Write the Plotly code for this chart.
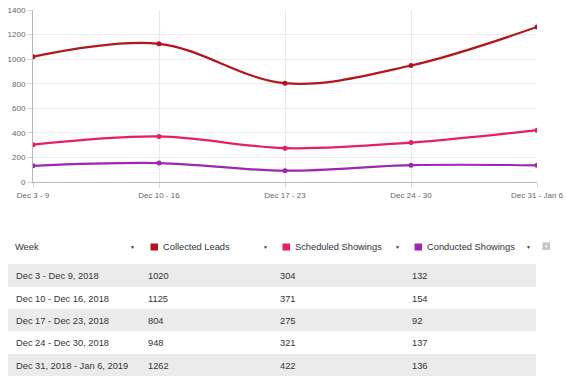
import plotly.graph_objects as go

weeks_short = ["Dec 3 - 9", "Dec 10 - 16", "Dec 17 - 23", "Dec 24 - 30", "Dec 31 - Jan 6"]
weeks_long = ["Dec 3 - Dec 9, 2018", "Dec 10 - Dec 16, 2018", "Dec 17 - Dec 23, 2018",
              "Dec 24 - Dec 30, 2018", "Dec 31, 2018 - Jan 6, 2019"]
collected = [1020, 1125, 804, 948, 1262]
scheduled = [304, 371, 275, 321, 422]
conducted = [132, 154, 92, 137, 136]
series_names = ["Collected Leads", "Scheduled Showings", "Conducted Showings"]
colors = ["#b3151d", "#e91e5a", "#9c27b0"]
y_ticks = [0, 200, 400, 600, 800, 1000, 1200, 1400]

W, H = 567, 390

def px_x(x):
    return x / W

def px_y(y):
    return (H - y) / H

FONT = "Liberation Sans, Arial, Helvetica, sans-serif"

fig = go.Figure()
for name, vals, col in zip(series_names, [collected, scheduled, conducted], colors):
    fig.add_trace(go.Scatter(
        x=weeks_short, y=vals, name=name, mode="lines+markers",
        line=dict(color=col, width=2.2, shape="spline", smoothing=1.0),
        marker=dict(color=col, size=5),
        showlegend=False, xaxis="x", yaxis="y"))

# table body
fig.add_trace(go.Table(
    domain=dict(x=[px_x(8), px_x(536)], y=[0, px_y(263.3)]),
    columnwidth=[1, 1, 1, 1],
    header=dict(values=["", "", "", ""], height=1, fill=dict(color="white"),
                line=dict(width=0, color="white")),
    cells=dict(values=[weeks_long, collected, scheduled, conducted],
               align="left", height=22.4,
               fill=dict(color=[["#ebebeb", "white", "#ebebeb", "white", "#ebebeb"]] * 4),
               line=dict(width=0, color="rgba(0,0,0,0)"),
               font=dict(family=FONT, size=9.3, color="#333333")),
))

fig.update_layout(
    width=W, height=H, autosize=False,
    margin=dict(l=0, r=0, t=0, b=0, pad=0, autoexpand=False),
    paper_bgcolor="white", plot_bgcolor="white",
    xaxis=dict(domain=[px_x(33), px_x(537)], range=[0, 4], type="category",
               automargin=False, ticklabeloverflow="allow",
               showgrid=True, gridcolor="#e9e9e9", gridwidth=1,
               showline=True, linecolor="#b8b8b8", linewidth=1,
               ticks="outside", ticklen=5, tickcolor="#d8d8d8",
               tickfont=dict(family=FONT, size=8, color="#666666"),
               zeroline=False, fixedrange=True),
    yaxis=dict(domain=[px_y(182), px_y(10)], range=[0, 1400],
               automargin=False, ticklabeloverflow="allow",
               tickvals=y_ticks,
               showgrid=True, gridcolor="#ececec", gridwidth=1,
               showline=True, linecolor="#b8b8b8", linewidth=1,
               ticks="outside", ticklen=5, tickcolor="#d8d8d8",
               tickfont=dict(family=FONT, size=8, color="#666666"),
               zeroline=False, fixedrange=True),
)

# header annotations
header_y = px_y(246.5)
annots = []
shapes = []
annots.append(dict(x=px_x(12.5), y=header_y, xref="paper", yref="paper", text="Week",
                   showarrow=False, xanchor="left", yanchor="middle",
                   font=dict(family=FONT, size=9.3, color="#333333")))
col_starts = [8, 140, 272, 404]
for i, (name, col) in enumerate(zip(series_names, colors)):
    cs = col_starts[i + 1]
    sq_x0 = cs + 10.5
    shapes.append(dict(type="rect", xref="paper", yref="paper",
                       x0=px_x(sq_x0), x1=px_x(sq_x0 + 7.5),
                       y0=px_y(250.5), y1=px_y(243.5),
                       fillcolor=col, line=dict(width=0)))
    annots.append(dict(x=px_x(sq_x0 + 10.5), y=header_y, xref="paper", yref="paper", text=name,
                       showarrow=False, xanchor="left", yanchor="middle",
                       font=dict(family=FONT, size=9.3, color="#333333")))
for ax in [132.7, 265, 397.3, 528.3]:
    annots.append(dict(x=px_x(ax), y=px_y(246.5), xref="paper", yref="paper", text="▼",
                       showarrow=False, xanchor="center", yanchor="middle",
                       font=dict(family=FONT, size=5, color="#333333")))
# plus icon
shapes.append(dict(type="rect", xref="paper", yref="paper",
                   x0=px_x(542.5), x1=px_x(550), y0=px_y(250), y1=px_y(242.5),
                   fillcolor="#c4c4c4", line=dict(width=0)))
annots.append(dict(x=px_x(546.3), y=px_y(246.3), xref="paper", yref="paper", text="+",
                   showarrow=False, xanchor="center", yanchor="middle",
                   font=dict(family=FONT, size=8, color="white")))

fig.update_layout(annotations=annots, shapes=shapes)
fig.write_html("out.html", config={"displayModeBar": False},
               post_script="document.body.style.margin='0';document.body.style.overflow='hidden';")
